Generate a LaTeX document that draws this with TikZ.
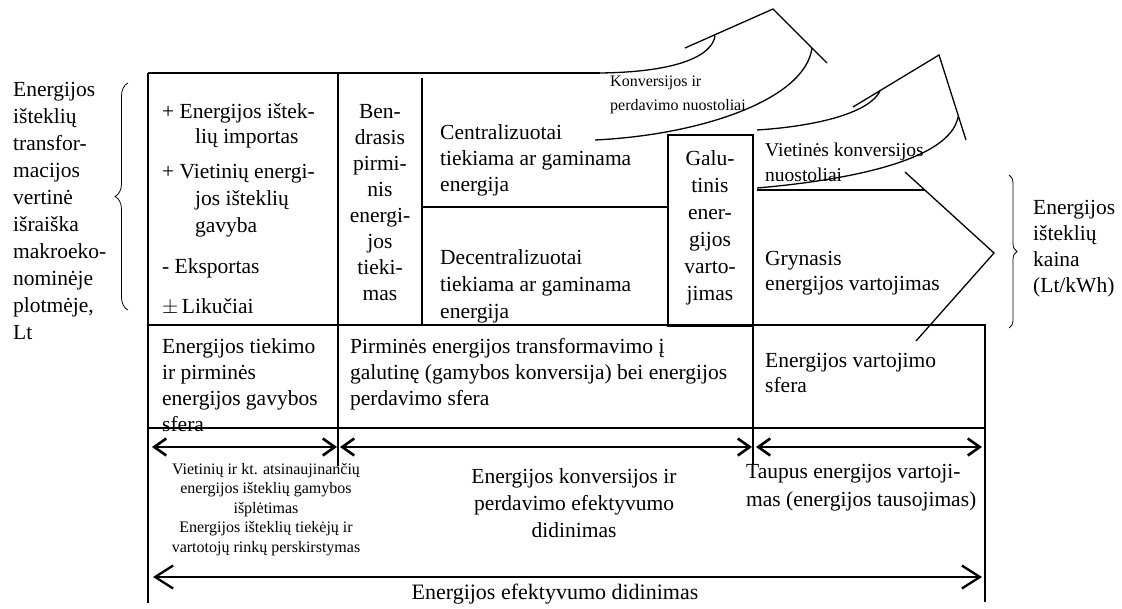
\documentclass[tikz,border=0pt]{standalone}
\usepackage{fontspec}
\setmainfont{Liberation Serif}
\usetikzlibrary{arrows.meta,decorations.pathreplacing}

\tikzset{
  txt/.style={inner sep=0pt,anchor=north west,align=left,font=\fontsize{21.5}{26}\selectfont},
  ctxt/.style={txt,anchor=north,align=center},
  sm/.style={font=\fontsize{16}{19.5}\selectfont},
  frame/.style={line width=1.8pt},
  flow/.style={line width=1.3pt},
  span/.style={line width=2.6pt,{Straight Barb[length=12pt,width=17pt]}-{Straight Barb[length=12pt,width=17pt]}},
  whole/.style={line width=2.3pt,{Straight Barb[length=18pt,width=23pt]}-{Straight Barb[length=18pt,width=23pt]}},
  brc/.style={line width=0.8pt,decorate,decoration={brace,amplitude=#1}}
}

\begin{document}
\begin{tikzpicture}[x=1pt,y=-1pt]
\useasboundingbox (0,0) rectangle (1122,609);
\draw[frame]
  (148,73) -- (148,603)
  (148,73) -- (600,73)
  (338,73) -- (338,466)
  (422,78) -- (422,325)
  (422,207) -- (668,207)
  (668,135) rectangle (753,326)
  (753,326) -- (753,465)
  (757,190) -- (925,190)
  (148,325) -- (985,325) -- (985,602)
  (148,428) -- (985,428);
\draw[flow]
  (600,73) .. controls (680,72) and (712,55) .. (715,36)
  (685,48) -- (773,9) -- (827,63)
  (595,140) .. controls (700,135) and (805,100) .. (812,48)
  (757,130) .. controls (820,126) and (870,112) .. (880,91)
  (853,107) -- (939,55) -- (966,140)
  (757,188) .. controls (850,180) and (950,160) .. (958,117)
  (905,172) -- (994,253) -- (916,341);
\draw[brc=13] (128,310) -- (128,83);
\draw[brc=8] (1009,175) -- (1009,328);

\node[txt,font=\fontsize{21.5}{27}\selectfont] (vertine) at (13,82) {Energijos\\išteklių\\transfor-\\macijos\\vertinė\\išraiška\\makroeko-\\nominėje\\plotmėje,\\Lt};
\node[txt,font=\fontsize{21.5}{25}\selectfont] (importas) at (162,103) {+ Energijos ištek-\\\hspace*{33pt}lių importas};
\node[txt,font=\fontsize{21.5}{27}\selectfont] (gavyba) at (162,164) {+ Vietinių energi-\\\hspace*{33pt}jos išteklių\\\hspace*{33pt}gavyba};
\node[txt] (eksportas) at (162,258) {- Eksportas};
\node[txt] (likuciai) at (162,298) {$\pm$\,Likučiai};
\node[ctxt] (bendrasis) at (380,104) {Ben-\\drasis\\pirmi-\\nis\\energi-\\jos\\tieki-\\mas};
\node[txt] (central) at (440,124) {Centralizuotai\\tiekiama ar gaminama\\energija};
\node[txt,font=\fontsize{21.5}{27}\selectfont] (decentral) at (440,249) {Decentralizuotai\\tiekiama ar gaminama\\energija};
\node[ctxt,font=\fontsize{21.5}{27}\selectfont] (galutinis) at (710,150) {Galu-\\tinis\\ener-\\gijos\\varto-\\jimas};
\node[txt,font=\fontsize{19.5}{25}\selectfont] (vietines) at (765,143) {Vietinės konversijos\\nuostoliai};
\node[txt,font=\fontsize{21.5}{25}\selectfont] (grynasis) at (765,251) {Grynasis\\energijos vartojimas};
\node[txt,sm,font=\fontsize{16}{24}\selectfont] (nuostoliai) at (610,76) {Konversijos ir\\perdavimo nuostoliai};
\node[txt] (kaina) at (1033,200) {Energijos\\išteklių\\kaina\\(Lt/kWh)};
\node[txt] (tiekimo) at (162,338) {Energijos tiekimo\\ir pirminės\\energijos gavybos\\sfera};
\node[txt] (transf) at (350,338) {Pirminės energijos transformavimo į\\galutinę (gamybos konversija) bei energijos\\perdavimo sfera};
\node[txt,font=\fontsize{21.5}{25}\selectfont] (vartsfera) at (765,353) {Energijos vartojimo\\sfera};
\node[ctxt,sm] (atsinauj) at (266,463) {Vietinių ir kt. atsinaujinančių\\energijos išteklių gamybos\\išplėtimas\\Energijos išteklių tiekėjų ir\\vartotojų rinkų perskirstymas};
\node[ctxt,font=\fontsize{21.5}{27}\selectfont] (konvef) at (574,468) {Energijos konversijos ir\\perdavimo efektyvumo\\didinimas};
\node[txt,font=\fontsize{21.5}{28}\selectfont] (taupus) at (746,464) {Taupus energijos vartoji-\\mas (energijos tausojimas)};
\node[inner sep=0pt,anchor=base,font=\fontsize{22}{26}\selectfont] (efekt) at (555,599) {Energijos efektyvumo didinimas};

\coordinate (s1a) at (152,447);
\coordinate (s1b) at (337,447);
\coordinate (s2a) at (340,447);
\coordinate (s2b) at (752,447);
\coordinate (s3a) at (756,447);
\coordinate (s3b) at (982,447);
\coordinate (wa) at (153,577);
\coordinate (wb) at (982,577);
\draw[span] (s1a) -- (s1b);
\draw[span] (s2a) -- (s2b);
\draw[span] (s3a) -- (s3b);
\draw[whole] (wa) -- (wb);
\end{tikzpicture}
\end{document}
